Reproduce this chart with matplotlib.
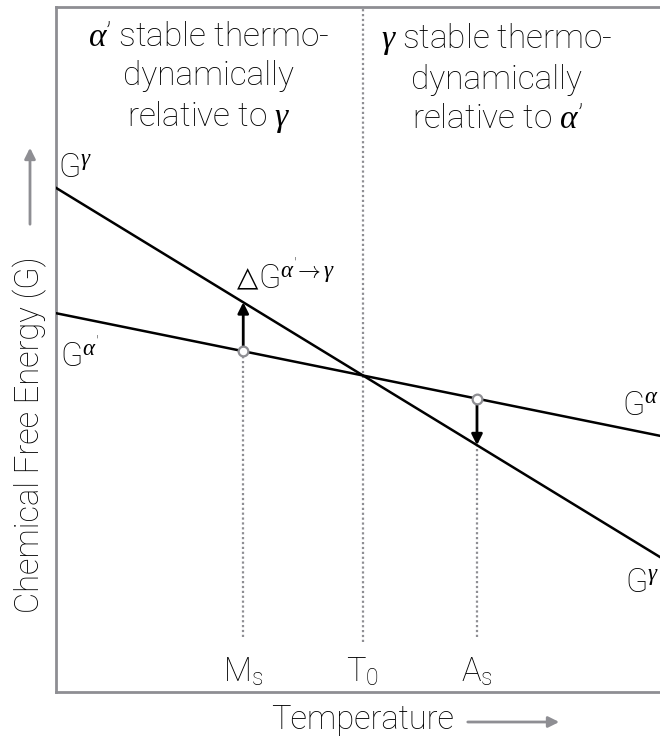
import matplotlib.pyplot as plt
from matplotlib.patches import FancyArrowPatch
import numpy as np

plt.rcParams['font.family'] = ['Roboto', 'DejaVu Sans']
plt.rcParams['font.weight'] = 'light'
plt.rcParams['mathtext.fontset'] = 'custom'
plt.rcParams['mathtext.rm'] = 'Roboto:light'
plt.rcParams['mathtext.it'] = 'Liberation Serif:italic:regular'

# free energy lines, sampled at the two ends of the temperature range
temp = [0, 100]
g_gamma = [73.6, 19.7]
g_alpha = [55.3, 37.4]

# characteristic temperatures
t_ms = 31.0
t_0 = 50.8
t_as = 69.7
temp_marks = [t_ms, t_0, t_as]
temp_labels = [r'M$_\mathrm{s}$', r'T$_\mathrm{0}$', r'A$_\mathrm{s}$']

grey = '#8e8e93'
fs = 23.5

fig = plt.figure(figsize=(6.6, 7.42), dpi=100)
ax = fig.add_axes([56/660, 50/742, 604/660, 685/742])
ax.set_xlim(0, 100)
ax.set_ylim(0, 100)
ax.set_xticks([])
ax.set_yticks([])
for s in ['left', 'top', 'bottom']:
    ax.spines[s].set_color(grey)
    ax.spines[s].set_linewidth(2)
ax.spines['right'].set_visible(False)

ax.plot(temp, g_gamma, color='black', lw=1.8, zorder=3)
ax.plot(temp, g_alpha, color='black', lw=1.8, zorder=3)

def g_at(line, t):
    return np.interp(t, temp, line)

dots = dict(color=grey, lw=1.6, ls=(0, (1, 1.2)), zorder=1)
arrow = dict(arrowstyle='-|>', color='black', lw=2, mutation_scale=16, shrinkA=3, shrinkB=0)

# T0 dotted divider
ax.plot([t_0, t_0], [7.3, 100], **dots)

# Ms: gamma above alpha', arrow up
ga = g_at(g_alpha, t_ms)
gg = g_at(g_gamma, t_ms)
ax.plot([t_ms, t_ms], [8.0, ga], **dots)
ax.annotate('', xy=(t_ms, gg), xytext=(t_ms, ga), arrowprops=arrow, zorder=4)
ax.plot(t_ms, ga, 'o', ms=7, mfc='white', mec=grey, mew=1.6, zorder=5)

# As: arrow down from alpha' to gamma
ga2 = g_at(g_alpha, t_as)
gg2 = g_at(g_gamma, t_as)
ax.plot([t_as, t_as], [8.0, gg2], **dots)
ax.annotate('', xy=(t_as, gg2), xytext=(t_as, ga2), arrowprops=arrow, zorder=4)
ax.plot(t_as, ga2, 'o', ms=7, mfc='white', mec=grey, mew=1.6, zorder=5)

for t, lab in zip(temp_marks, temp_labels):
    ax.text(t, 2.9, lab, ha='center', va='center', fontsize=fs)

# region captions
ax.text(25.3, 89.6, "$\\alpha$’ stable thermo-\ndynamically\nrelative to $\\gamma$",
        ha='center', va='center', fontsize=24, linespacing=1.27)
ax.text(73.0, 89.6, "$\\gamma$ stable thermo-\ndynamically\nrelative to $\\alpha$’",
        ha='center', va='center', fontsize=24, linespacing=1.27)

# line labels
ax.text(0.4, 76.5, r'G$^{\gamma}$', ha='left', va='center', fontsize=fs)
ax.text(0.6, 49.0, r"G$^{\alpha'}$", ha='left', va='center', fontsize=fs)
ax.text(93.7, 41.8, r'G$^{\alpha}$', ha='left', va='center', fontsize=fs, clip_on=False)
ax.text(94.2, 15.9, r'G$^{\gamma}$', ha='left', va='center', fontsize=fs, clip_on=False)
ax.text(30.0, 60.4, '△', ha='left', va='center', fontsize=fs - 3.5,
        family='DejaVu Sans', fontweight='normal')
ax.text(33.5, 60.4, r"G$^{\alpha'\!\rightarrow\gamma}$", ha='left', va='center',
        fontsize=fs)

# axis titles with arrows
fig.text(30/660, 1 - 435/742, 'Chemical Free Energy (G)', rotation=90,
         ha='center', va='center', fontsize=fs)
fig.patches.append(FancyArrowPatch(
    (30/660, 1 - 227/742), (30/660, 1 - 145/742), transform=fig.transFigure,
    arrowstyle='-|>', color=grey, lw=2, mutation_scale=16))
fig.text(362/660, 1 - 720/742, 'Temperature', ha='center', va='center', fontsize=fs)
fig.patches.append(FancyArrowPatch(
    (465/660, 1 - 722/742), (562/660, 1 - 722/742), transform=fig.transFigure,
    arrowstyle='-|>', color=grey, lw=2, mutation_scale=16))

fig.savefig('out.png', dpi=100)
